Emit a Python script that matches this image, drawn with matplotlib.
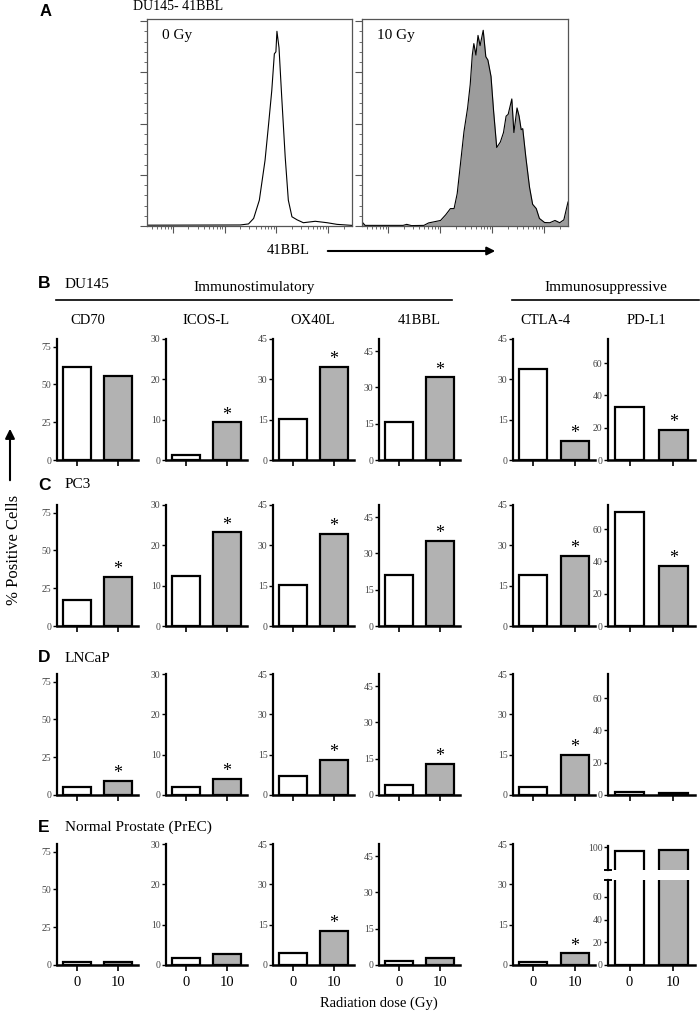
import numpy as np
import matplotlib
matplotlib.use('Agg')
import matplotlib.pyplot as plt
from matplotlib.ticker import LogLocator, MultipleLocator, NullFormatter

W, H = 700, 1014
plt.rcParams['font.family'] = ['Liberation Serif', 'DejaVu Serif']

# --- panel A: flow histograms (log10 intensity, normalised count) ---
hist_0gy_log = [-0.5, 1.30, 1.46, 1.56, 1.67, 1.78, 1.85, 1.91, 1.96, 1.99, 2.01,
                2.05, 2.10, 2.17, 2.23, 2.30, 2.40, 2.52, 2.75, 2.98, 3.17, 3.46]
hist_0gy_cnt = [0.004, 0.005, 0.01, 0.037, 0.126, 0.32, 0.50, 0.66, 0.84, 0.85, 0.95,
                0.87, 0.64, 0.335, 0.126, 0.045, 0.03, 0.016, 0.023, 0.016, 0.008, 0.003]

hist_10gy_log = [-0.5, -0.44, 0.29, 0.36, 0.45, 0.69, 0.78, 1.01, 1.11, 1.20, 1.27, 1.33,
                 1.40, 1.46, 1.53, 1.58, 1.62, 1.65, 1.69, 1.73, 1.77, 1.83, 1.88, 1.92,
                 1.98, 2.03, 2.09, 2.16, 2.22, 2.27, 2.31, 2.38, 2.42, 2.48, 2.52, 2.56,
                 2.59, 2.65, 2.72, 2.78, 2.85, 2.91, 3.01, 3.11, 3.21, 3.30, 3.38, 3.46]
hist_10gy_cnt = [0.02, 0.003, 0.003, 0.008, 0.002, 0.003, 0.015, 0.027, 0.055, 0.085, 0.085,
                 0.158, 0.32, 0.46, 0.576, 0.69, 0.834, 0.89, 0.834, 0.93, 0.88, 0.955,
                 0.826, 0.81, 0.73, 0.56, 0.383, 0.41, 0.456, 0.536, 0.545, 0.62, 0.456,
                 0.576, 0.536, 0.47, 0.475, 0.335, 0.19, 0.106, 0.085, 0.037, 0.017, 0.016,
                 0.027, 0.016, 0.03, 0.117]

# --- panels B-E: % positive cells at 0 Gy and 10 Gy ---
markers = ['CD70', 'ICOS-L', 'OX40L', '41BBL', 'CTLA-4', 'PD-L1']
cell_lines = ['DU145', 'PC3', 'LNCaP', 'Normal Prostate (PrEC)']
row_letters = ['B', 'C', 'D', 'E']
dose_labels = ['0', '10']

du145_0gy = [61.5, 1.3, 15.4, 15.6, 33.7, 33.0]
du145_10gy = [55.6, 9.3, 34.6, 34.2, 7.2, 18.6]
du145_sig = [0, 1, 1, 1, 1, 1]
pc3_0gy = [17.5, 12.4, 15.3, 21.0, 18.8, 70.8]
pc3_10gy = [32.5, 23.2, 34.4, 35.3, 26.0, 37.5]
pc3_sig = [1, 1, 1, 1, 1, 1]
lncap_0gy = [5.0, 2.0, 7.2, 4.0, 3.0, 2.0]
lncap_10gy = [9.2, 4.0, 13.0, 13.0, 15.0, 1.0]
lncap_sig = [1, 1, 1, 1, 1, 0]
prec_0gy = [2.2, 1.7, 4.6, 1.7, 1.1, 96.5]
prec_10gy = [2.2, 2.7, 12.8, 2.8, 4.3, 97.5]
prec_sig = [0, 0, 1, 0, 1, 0]

values_0gy = [du145_0gy, pc3_0gy, lncap_0gy, prec_0gy]
values_10gy = [du145_10gy, pc3_10gy, lncap_10gy, prec_10gy]
significant = [du145_sig, pc3_sig, lncap_sig, prec_sig]

y_max = [80, 30, 45, 50, 45, 75]
y_ticks = [[0, 25, 50, 75], [0, 10, 20, 30], [0, 15, 30, 45],
           [0, 15, 30, 45], [0, 15, 30, 45], [0, 20, 40, 60]]

fig = plt.figure(figsize=(W / 100, H / 100), dpi=100)


def px_axes(x0, y0, x1, y1):
    return fig.add_axes([x0 / W, 1 - y1 / H, (x1 - x0) / W, (y1 - y0) / H])


def px_text(x, y, s, **kw):
    fig.text(x / W, 1 - y / H, s, **kw)


# ---------------- panel A ----------------
hist_boxes = [(147, 352), (362, 568)]
hists = [(hist_0gy_log, hist_0gy_cnt, False, '0 Gy'),
         (hist_10gy_log, hist_10gy_cnt, True, '10 Gy')]
for (x0, x1), (lg, cnt, filled, lab) in zip(hist_boxes, hists):
    ax = px_axes(x0, 19, x1, 226)
    xs = 10 ** np.array(lg)
    if filled:
        ax.fill_between(xs, cnt, color='#9c9c9c', lw=0)
    ax.plot(xs, cnt, color='black', lw=0.8)
    ax.set_xscale('log')
    ax.set_xlim(10 ** -0.5, 10 ** 3.46)
    ax.set_ylim(0, 1.01)
    ax.xaxis.set_major_locator(LogLocator(base=10, numticks=10))
    ax.xaxis.set_minor_locator(LogLocator(base=10, subs=np.arange(2, 10), numticks=20))
    ax.xaxis.set_major_formatter(NullFormatter())
    ax.xaxis.set_minor_formatter(NullFormatter())
    ax.set_yticks([0, 0.25, 0.5, 0.75, 1.0])
    ax.yaxis.set_minor_locator(MultipleLocator(0.05))
    ax.set_yticklabels([])
    ax.tick_params(which='major', direction='out', length=5, width=0.8, color='#555555')
    ax.tick_params(which='minor', direction='out', length=2.5, width=0.6, color='#555555')
    for sp in ax.spines.values():
        sp.set_color('#555555')
        sp.set_linewidth(0.9)
    ax.text(0.073, 0.92, lab, transform=ax.transAxes, fontsize=11, va='center')

px_text(40, 12, 'A', fontsize=12, fontweight='bold', family='Liberation Sans', va='center')
px_text(133, 7, 'DU145- 41BBL', fontsize=10, va='center')
px_text(267, 251, '41BBL', fontsize=10.5, va='center')
fig.add_artist(matplotlib.patches.FancyArrowPatch(
    (325 / W, 1 - 251 / H), (498 / W, 1 - 251 / H), transform=fig.transFigure,
    arrowstyle='-|>', mutation_scale=12, color='black', lw=1.5))

# ---------------- panels B-E ----------------
col_x = [57, 166, 273, 379, 513, 608]
col_w = [81, 81, 81, 81, 82, 87]
row_base = [460, 626, 795, 965]
ax_h = 121
title_x = [87.5, 206, 313, 419.5, 545, 646.5]


def style_bar_axes(ax, show_bottom=True):
    ax.spines['top'].set_visible(False)
    ax.spines['right'].set_visible(False)
    ax.spines['left'].set_linewidth(1.6)
    ax.spines['bottom'].set_linewidth(1.8)
    if not show_bottom:
        ax.spines['bottom'].set_visible(False)
        ax.set_xticks([])
    ax.tick_params(axis='y', direction='out', length=3, width=1, labelsize=7,
                   pad=1, labelcolor='#444444')
    ax.tick_params(axis='x', direction='out', length=4, width=1.2)


def draw_bars(ax, v0, v1):
    ax.bar([0, 1], [v0, v1], width=0.68, color=['white', '#b2b2b2'],
           edgecolor='black', linewidth=1.6)
    ax.set_xlim(-0.49, 1.49)


for r in range(4):
    base = row_base[r]
    for c in range(6):
        v0, v1 = values_0gy[r][c], values_10gy[r][c]
        x0, x1 = col_x[c], col_x[c] + col_w[c]
        broken = (r == 3 and c == 5)
        if broken:
            low = px_axes(x0, base - 85, x1, base)
            draw_bars(low, v0, v1)
            low.set_ylim(0, 75)
            low.set_yticks(y_ticks[c])
            style_bar_axes(low)
            up = px_axes(x0, base - 119, x1, base - 95)
            draw_bars(up, v0, v1)
            up.set_ylim(80, 101)
            up.set_yticks([100])
            style_bar_axes(up, show_bottom=False)
            low.plot([-0.04, 0.04], [1, 1], transform=low.transAxes, color='black',
                     lw=1.4, clip_on=False)
            up.plot([-0.04, 0.04], [0, 0], transform=up.transAxes, color='black',
                    lw=1.4, clip_on=False)
            ax = low
        else:
            ax = px_axes(x0, base - ax_h, x1, base)
            draw_bars(ax, v0, v1)
            ax.set_ylim(0, y_max[c])
            ax.set_yticks(y_ticks[c])
            style_bar_axes(ax)
            if significant[r][c]:
                ax.annotate('*', (1, v1), xytext=(0, -1), textcoords='offset points',
                            ha='center', va='bottom', fontsize=13)
        ax.set_xticks([0, 1])
        if r == 3:
            ax.set_xticklabels(dose_labels, fontsize=10.5)
            ax.tick_params(axis='x', pad=4)
        else:
            ax.set_xticklabels([])

    # row header
    letter_y = [284, 485, 658, 827][r]
    px_text(38, letter_y, row_letters[r], fontsize=12.5, fontweight='bold',
            family='Liberation Sans', va='center')
    px_text(65, letter_y, cell_lines[r], fontsize=11, va='center')

# group headers and marker titles
px_text(254, 287, 'Immunostimulatory', fontsize=11, ha='center', va='center')
px_text(606, 287, 'Immunosuppressive', fontsize=11, ha='center', va='center')
fig.add_artist(plt.Line2D([56 / W, 452 / W], [1 - 300 / H, 1 - 300 / H],
                          color='black', lw=1.2))
fig.add_artist(plt.Line2D([512 / W, 699 / W], [1 - 300 / H, 1 - 300 / H],
                          color='black', lw=1.2))
for c in range(6):
    px_text(title_x[c], 321, markers[c], fontsize=10.5, ha='center', va='center')

# y label with arrow
px_text(14, 550, '% Positive Cells', fontsize=12, rotation=90, ha='center', va='center')
fig.add_artist(matplotlib.patches.FancyArrowPatch(
    (10 / W, 1 - 483 / H), (10 / W, 1 - 426 / H), transform=fig.transFigure,
    arrowstyle='-|>', mutation_scale=14, color='black', lw=1.5))

px_text(379, 1003, 'Radiation dose (Gy)', fontsize=10.5, ha='center', va='center')

fig.savefig('out.png', dpi=100)
